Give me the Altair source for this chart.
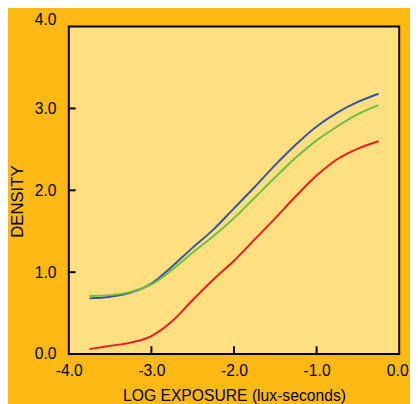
import altair as alt
import pandas as pd

# ---- data ----
log_exposure = [-3.75, -3.5, -3.25, -3.0, -2.75, -2.5, -2.25, -2.0,
                -1.75, -1.5, -1.25, -1.0, -0.75, -0.5, -0.25]
blue_density = [0.68, 0.70, 0.75, 0.86, 1.07, 1.30, 1.52, 1.78,
                2.04, 2.31, 2.56, 2.78, 2.95, 3.08, 3.18]
green_density = [0.71, 0.72, 0.76, 0.85, 1.03, 1.24, 1.44, 1.66,
                 1.91, 2.16, 2.40, 2.61, 2.78, 2.93, 3.04]
red_density = [0.06, 0.10, 0.14, 0.22, 0.40, 0.66, 0.91, 1.14,
               1.40, 1.66, 1.93, 2.18, 2.38, 2.51, 2.60]

series_names = ["blue", "green", "red"]
series_colors = ["#3953A4", "#6CBD45", "#ED1C24"]

x_tick_values = [-4.0, -3.0, -2.0, -1.0, 0.0]
y_tick_values = [0.0, 1.0, 2.0, 3.0, 4.0]
inner_x_ticks = [-3.0, -2.0, -1.0]
inner_y_ticks = [1.0, 2.0, 3.0]

rows = []
for name, vals in zip(series_names, [blue_density, green_density, red_density]):
    for x, y in zip(log_exposure, vals):
        rows.append({"exposure": x, "density": y, "series": name})
df = pd.DataFrame(rows)

W, H = 337, 334

x_enc = alt.X(
    "exposure:Q",
    scale=alt.Scale(domain=[-4, 0], nice=False, zero=False),
    axis=alt.Axis(
        values=x_tick_values,
        title="LOG EXPOSURE (lux-seconds)",
        labelExpr="(datum.value < 0 ? '-' : '') + format(abs(datum.value), '.1f')",
        labelFlush=False,
        labelOffset={"condition": {"test": "datum.value == 0", "value": -2}, "value": 0},
        labelPadding=9,
        titlePadding=9,
        titleFontSize=16,
    ),
)
y_enc = alt.Y(
    "density:Q",
    scale=alt.Scale(domain=[0, 4], nice=False),
    axis=alt.Axis(
        values=y_tick_values,
        title="DENSITY",
        format=".1f",
        labelPadding=13,
        labelOffset={"condition": {"test": "datum.value == 4", "value": -7}, "value": 0},
        titlePadding=8,
        titleFontSize=17,
        titleY=178,
    ),
)

lines = alt.Chart(df).mark_line(strokeWidth=2, interpolate="monotone").encode(
    x=x_enc,
    y=y_enc,
    color=alt.Color("series:N", scale=alt.Scale(domain=series_names, range=series_colors), legend=None),
)

xticks = alt.Chart(pd.DataFrame({"exposure": inner_x_ticks})).mark_rule(
    color="black", strokeWidth=2
).encode(x=x_enc, y=alt.value(H), y2=alt.value(H - 8))

yticks = alt.Chart(pd.DataFrame({"density": inner_y_ticks})).mark_rule(
    color="black", strokeWidth=2
).encode(y=y_enc, x=alt.value(0), x2=alt.value(7))

chart = alt.layer(lines, xticks, yticks).properties(
    width=W,
    height=H,
    padding={"left": 62, "top": 15, "right": 11, "bottom": 47},
    autosize=alt.AutoSizeParams(type="none"),
).configure(
    background="#FDB913"
).configure_view(
    fill="#FFDF80", stroke="black", strokeWidth=2
).configure_axis(
    grid=False, domain=False, ticks=False, tickSize=0,
    labelFont="Liberation Sans", labelFontSize=16, labelColor="black",
    titleFont="Liberation Sans", titleFontWeight="normal", titleColor="black",
)

chart.save("out.html", embed_options={"renderer": "svg", "actions": False})
